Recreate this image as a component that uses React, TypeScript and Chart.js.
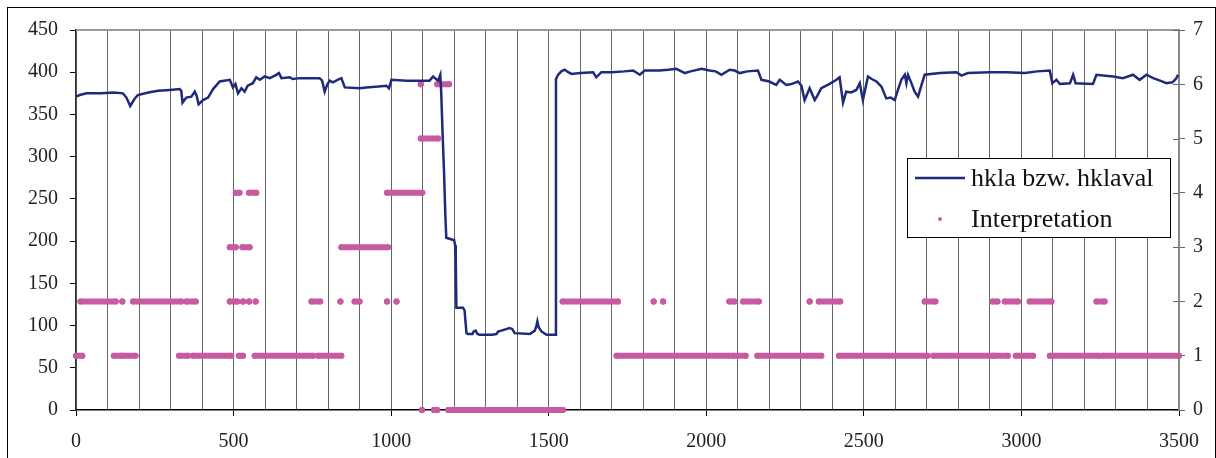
import React, { useEffect, useRef } from 'react';
import { Chart, registerables } from 'chart.js';

Chart.register(...registerables);

// ---- data ----
const hklaX = [
  0, 12, 33, 80, 120, 149, 160, 172, 185, 196, 230, 260, 298, 329, 334, 338, 350, 366, 377, 383,
  389, 403, 419, 435, 456, 488, 498, 506, 514, 525, 535, 545, 561, 572, 583, 599, 615, 631, 644, 652,
  678, 688, 710, 773, 781, 789, 797, 805, 815, 830, 842, 853, 900, 921, 960, 985, 993, 1001, 1050, 1090,
  1122, 1133, 1149, 1156, 1159, 1163, 1168, 1172, 1175, 1200, 1203, 1205, 1207, 1228, 1233, 1237, 1239, 1244, 1258, 1262,
  1268, 1274, 1281, 1320, 1334, 1340, 1350, 1376, 1384, 1392, 1440, 1456, 1461, 1464, 1468, 1477, 1493, 1522, 1523, 1530,
  1540, 1551, 1562, 1572, 1600, 1641, 1651, 1667, 1700, 1740, 1768, 1789, 1805, 1850, 1880, 1905, 1932, 1950, 1985, 2010,
  2030, 2048, 2074, 2090, 2106, 2130, 2164, 2175, 2200, 2222, 2233, 2254, 2270, 2291, 2302, 2312, 2328, 2344, 2352, 2365,
  2390, 2413, 2423, 2434, 2444, 2460, 2476, 2487, 2497, 2513, 2525, 2540, 2556, 2571, 2585, 2598, 2608, 2619, 2630, 2635,
  2640, 2650, 2661, 2672, 2683, 2693, 2741, 2794, 2810, 2830, 2900, 2952, 3011, 3050, 3090, 3098, 3111, 3122, 3154, 3164,
  3172, 3227, 3238, 3260, 3291, 3322, 3354, 3375, 3397, 3418, 3440, 3460, 3479, 3490, 3497,
];
const hklaY = [
  371, 373, 375, 375, 376, 375, 370, 360, 368, 373, 376, 378, 379, 380, 378, 364, 370, 371, 377, 372,
  362, 367, 370, 380, 389, 391, 382, 386, 375, 381, 377, 384, 387, 394, 391, 395, 393, 396, 399, 393,
  394, 392, 393, 393, 390, 377, 385, 390, 388, 391, 393, 382, 381, 382, 383, 384, 381, 391, 390, 390,
  390, 395, 390, 397, 375, 330, 280, 230, 204, 201, 195, 180, 121, 121, 118, 100, 91, 90, 90, 93,
  94, 90, 89, 89, 90, 93, 94, 97, 96, 91, 90, 94, 100, 105, 98, 93, 89, 89, 392, 397,
  401, 403, 400, 398, 399, 400, 394, 400, 400, 401, 402, 397, 402, 402, 403, 404, 399, 401, 404, 402,
  401, 397, 403, 402, 399, 401, 402, 391, 389, 385, 391, 385, 386, 389, 384, 367, 381, 367, 372, 381,
  386, 391, 394, 364, 377, 376, 379, 387, 367, 395, 392, 389, 383, 369, 370, 367, 379, 391, 397, 387,
  397, 388, 377, 371, 385, 397, 399, 400, 396, 399, 400, 400, 399, 401, 402, 387, 391, 386, 387, 397,
  387, 386, 397, 396, 395, 393, 397, 391, 397, 393, 390, 387, 388, 392, 397,
];

// Interpretation: runs of equal level (start, end, level)
const interpStart = [
  0, 120, 149, 327, 371, 517, 567, 768, 1715, 2083, 2162, 2421, 2720, 2915, 2982, 3090, 3257,
  14, 147, 181, 350, 488, 500, 530, 549, 570, 747, 839, 884, 987, 1017, 1544, 1833, 1863, 2073, 2117, 2328, 2357, 2693, 2908, 2947, 3026, 3238,
  488, 528, 842,
  507, 549, 987,
  1094,
  1094, 1146,
  1098, 1136, 1146, 1181,
];
const interpEnd = [
  20, 144, 189, 355, 493, 530, 752, 842, 2074, 2125, 2365, 2702, 2910, 2957, 3037, 3246, 3500,
  126, 147, 334, 380, 488, 512, 530, 549, 570, 775, 839, 900, 987, 1017, 1720, 1833, 1863, 2089, 2167, 2328, 2425, 2727, 2924, 2989, 3095, 3264,
  507, 551, 990,
  519, 572, 1099,
  1149,
  1094, 1184,
  1098, 1136, 1146, 1545,
];
const interpLevel = [
  1, 1, 1, 1, 1, 1, 1, 1, 1, 1, 1, 1, 1, 1, 1, 1, 1,
  2, 2, 2, 2, 2, 2, 2, 2, 2, 2, 2, 2, 2, 2, 2, 2, 2, 2, 2, 2, 2, 2, 2, 2, 2, 2,
  3, 3, 3,
  4, 4, 4,
  5,
  6, 6,
  0, 0, 0, 0,
];

const seriesNames = ['hkla bzw. hklaval', 'Interpretation'];

const NAVY = '#1F2A7A';
const PINK = '#C85AA2';
const FONT = "'Liberation Serif', 'Times New Roman', serif";

const decorPlugin = {
  id: 'decor',
  beforeDatasetsDraw(chart: any) {
    const { ctx, chartArea: a } = chart;
    ctx.save();
    ctx.strokeStyle = '#9a9a9a';
    ctx.lineWidth = 2;
    ctx.beginPath();
    ctx.moveTo(a.left, a.top);
    ctx.lineTo(a.right, a.top);
    ctx.stroke();
    const y1 = chart.scales.y1;
    ctx.strokeStyle = '#666';
    ctx.lineWidth = 1;
    y1.ticks.forEach((t: any) => {
      const py = Math.round(y1.getPixelForValue(t.value)) + 0.5;
      ctx.beginPath();
      ctx.moveTo(a.right - 6, py);
      ctx.lineTo(a.right, py);
      ctx.stroke();
    });
    ctx.restore();
  },
  afterDraw(chart: any) {
    const { ctx, chartArea: a } = chart;
    const left = a.right - 272;
    const top = a.top + 128;
    const w = 263;
    const h = 79;
    ctx.save();
    ctx.fillStyle = '#fff';
    ctx.fillRect(left, top, w, h);
    ctx.strokeStyle = '#000';
    ctx.lineWidth = 1;
    ctx.strokeRect(Math.round(left) + 0.5, Math.round(top) + 0.5, w, h);
    ctx.strokeStyle = NAVY;
    ctx.lineWidth = 2.5;
    ctx.beginPath();
    ctx.moveTo(left + 8, top + 20);
    ctx.lineTo(left + 58, top + 20);
    ctx.stroke();
    ctx.fillStyle = PINK;
    ctx.beginPath();
    ctx.arc(left + 33, top + 61, 2, 0, Math.PI * 2);
    ctx.fill();
    ctx.fillStyle = '#111';
    ctx.font = `26px ${FONT}`;
    ctx.textBaseline = 'alphabetic';
    ctx.textAlign = 'left';
    ctx.fillText(seriesNames[0], left + 64, top + 28);
    ctx.fillText(seriesNames[1], left + 64, top + 69);
    ctx.restore();
  },
};

export default function App() {
  const ref = useRef<HTMLCanvasElement>(null);

  useEffect(() => {
    if (!ref.current) return;
    const lineData = hklaX.map((x, i) => ({ x, y: hklaY[i] }));
    const interpData: { x: number; y: number | null }[] = [];
    interpStart.forEach((s, i) => {
      interpData.push({ x: s, y: interpLevel[i] });
      interpData.push({ x: interpEnd[i], y: interpLevel[i] });
      interpData.push({ x: interpEnd[i], y: null });
    });

    const tickFont = { family: FONT, size: 20 };

    const chart = new Chart(ref.current, {
      type: 'line',
      data: {
        datasets: [
          {
            label: seriesNames[0],
            data: lineData,
            borderColor: NAVY,
            backgroundColor: NAVY,
            borderWidth: 2.5,
            pointRadius: 0,
            tension: 0,
            yAxisID: 'y',
          },
          {
            label: seriesNames[1],
            data: interpData as any,
            borderColor: PINK,
            backgroundColor: PINK,
            borderWidth: 6,
            borderCapStyle: 'round',
            pointRadius: 3,
            pointBorderWidth: 0,
            pointBackgroundColor: PINK,
            spanGaps: false,
            clip: false as any,
            yAxisID: 'y1',
          },
        ],
      },
      options: {
        responsive: false,
        animation: false,
        layout: { padding: { top: 30, left: 0, right: 0, bottom: 0 } },
        plugins: {
          legend: { display: false },
          tooltip: { enabled: false },
        },
        scales: {
          x: {
            type: 'linear',
            min: 0,
            max: 3500,
            ticks: {
              stepSize: 100,
              autoSkip: false,
              maxRotation: 0,
              font: tickFont,
              color: '#222',
              padding: 14,
              callback: (v: any) => (Number(v) % 500 === 0 ? String(v) : ''),
            },
            grid: {
              color: '#666',
              lineWidth: 1,
              tickLength: 6,
              tickColor: (c: any) => (c.tick && c.tick.value % 500 === 0 ? '#000' : 'rgba(0,0,0,0)'),
            },
            border: { color: '#000', width: 1.5 },
            afterFit: (s: any) => { s.height = 48; },
          },
          y: {
            position: 'left',
            min: 0,
            max: 450,
            ticks: { stepSize: 50, font: tickFont, color: '#222', padding: 12 },
            grid: { drawOnChartArea: false, tickLength: 6, tickColor: '#000' },
            border: { color: '#333', width: 1.5 },
            afterFit: (s: any) => { s.width = 76; },
          },
          y1: {
            position: 'right',
            min: 0,
            max: 7,
            ticks: { stepSize: 1, font: tickFont, color: '#222', padding: 8 },
            grid: { drawOnChartArea: false, tickLength: 6, tickColor: '#666' },
            border: { color: '#8a8a8a', width: 2 },
            afterFit: (s: any) => { s.width = 37; },
          },
        },
      },
      plugins: [decorPlugin],
    } as any);
    return () => chart.destroy();
  }, []);

  return (
    <div>
      <div
        style={{
          position: 'fixed',
          left: 7,
          top: 7,
          width: 1209,
          height: 520,
          border: '1px solid #000',
          boxSizing: 'border-box',
          background: '#fff',
        }}
      />
      <canvas
        ref={ref}
        width={1216}
        height={458}
        style={{ position: 'fixed', left: 0, top: 0, width: 1216, height: 458, display: 'block' }}
      />
    </div>
  );
}
